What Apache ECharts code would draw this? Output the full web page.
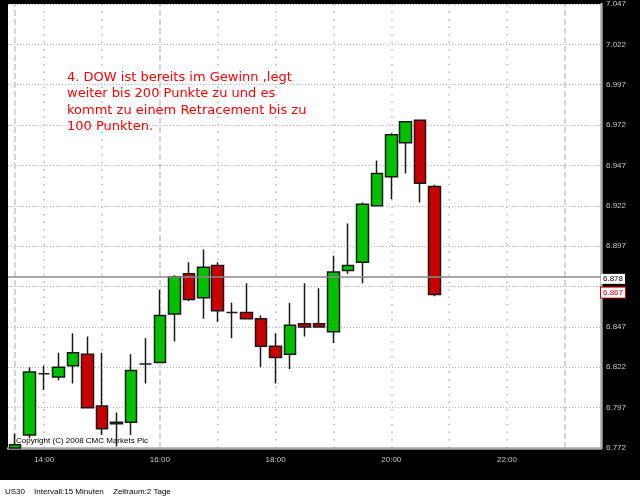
<!DOCTYPE html>
<html><head><meta charset="utf-8">
<script src="https://cdn.jsdelivr.net/npm/echarts@6/dist/echarts.min.js"></script>
<style>html,body{margin:0;padding:0;background:#000}#c{width:640px;height:500px}</style>
</head><body><div id="c"></div>
<script>
const categories = ['13:30','13:45','14:00','14:15','14:30','14:45','15:00','15:15','15:30','15:45',
  '16:00','16:15','16:30','16:45','17:00','17:15','17:30','17:45','18:00','18:15',
  '18:30','18:45','19:00','19:15','19:30','19:45','20:00','20:15','20:30','20:45',
  '21:00','21:15','21:30','21:45','22:00','22:15','22:30','22:45','23:00','23:15','23:30'];
const opens  = [6772,6780,6818,6816,6823,6830,6798,6787,6788,6824,6825,6855,6880,6865,6885,6856,6856,6852,6835,6830,6849,6849,6844,6882,6887,6922,6940,6961,6975,6934];
const closes = [6774,6819,6818,6822,6831,6797,6784,6788,6820,6824,6854,6878,6864,6884,6857,6856,6852,6835,6828,6848,6847,6847,6881,6885,6923,6942,6966,6974,6936,6867];
const lows   = [6772,6778,6808,6814,6812,6797,6780,6773,6780,6812,6825,6838,6863,6852,6850,6840,6852,6822,6812,6821,6841,6847,6837,6880,6874,6922,6926,6942,6924,6866];
const highs  = [6781,6822,6823,6831,6843,6841,6831,6794,6830,6840,6870,6879,6887,6895,6887,6862,6874,6854,6843,6862,6874,6871,6891,6911,6924,6950,6967,6974,6975,6935];
const yMin = 6772, yMax = 7047, yStep = 25;
const hiddenYLabels = [6872];
const xTickLabels = ['14:00','16:00','18:00','20:00','22:00'];
const dottedVLines = ['14:00','15:00','17:00','18:00','19:00','20:00','21:00','22:00'];
const dashedVLines = ['13:30','16:00','23:00'];
const refLevel = 6878;
const lastPrice = 6867;
const annotation = '4. DOW ist bereits im Gewinn ,legt\nweiter bis 200 Punkte zu und es\nkommt zu einem Retracement bis zu\n100 Punkten.';
const footerParts = ['US30', 'Intervall:15 Minuten', 'Zeitraum:2 Tage'];
const copyright = 'Copyright (C) 2008 CMC Markets Plc';

function fmt(v){ const n = Math.round(v); return Math.floor(n/1000) + '.' + String(n%1000).padStart(3,'0'); }

const candleData = opens.map((o,i)=>[o, closes[i], lows[i], highs[i]]);
const vLines = dottedVLines.map(c=>({xAxis:c, lineStyle:{color:'#b8b8b8', width:1.5, type:[1.5,6]}}))
  .concat(dashedVLines.map(c=>({xAxis:c, lineStyle:{color:'#c8c8c8', width:1.5, type:[6,3]}})));

const chart = echarts.init(document.getElementById('c'), null, {renderer:'canvas'});
chart.setOption({
  backgroundColor:'#000',
  animation:false,
  grid:{left:8, right:39, top:4, bottom:52, show:true, backgroundColor:'#fff', borderWidth:0},
  xAxis:{
    type:'category', data:categories, boundaryGap:true,
    axisLine:{show:true, lineStyle:{color:'#a8a8a8', width:2.5}},
    axisTick:{show:false},
    splitLine:{show:false},
    axisLabel:{color:'#c8c8c8', fontSize:8, fontFamily:'Liberation Sans', margin:8,
      interval:(i,v)=>xTickLabels.includes(v)}
  },
  yAxis:{
    type:'value', position:'right', min:yMin, max:yMax, interval:yStep, scale:true,
    axisLine:{show:true, lineStyle:{color:'#a8a8a8', width:2.5}},
    axisTick:{show:false},
    splitLine:{show:true, lineStyle:{color:'#b8b8b8', width:1, type:[1,2]}},
    axisLabel:{color:'#c8c8c8', fontSize:8, fontFamily:'Liberation Sans', margin:5,
      formatter:v=>hiddenYLabels.includes(Math.round(v)) ? '' : fmt(v)}
  },
  series:[
    {type:'line', data:[], z:0, silent:true,
      markLine:{silent:true, z:0, symbol:['none','none'], label:{show:false}, data:vLines}},
    {type:'candlestick', data:candleData, barWidth:12, z:3, clip:true,
      itemStyle:{color:'#00c000', color0:'#c80000', borderColor:'#1a1a1a', borderColor0:'#1a1a1a', borderWidth:1.5},
      markLine:{silent:true, symbol:['none','none'], z:6,
        data:[
          {yAxis:refLevel, lineStyle:{color:'#8a8a8a', width:1.5, type:'solid'},
            label:{show:true, position:'end', distance:0, offset:[0,2], formatter:p=>fmt(p.value),
              color:'#000', fontSize:8, fontFamily:'Liberation Sans', backgroundColor:'#fff', padding:[1,2]}},
          {yAxis:lastPrice, lineStyle:{color:'rgba(0,0,0,0)', width:0},
            label:{show:true, position:'end', distance:0, offset:[0,-2], formatter:p=>fmt(p.value),
              color:'#cc0000', fontSize:8, fontFamily:'Liberation Sans', backgroundColor:'#fff',
              borderColor:'#cc0000', borderWidth:1, padding:[1,2]}}
        ]}}
  ],
  graphic:[
    {type:'text', left:67, top:69, z:10, style:{text:annotation, fill:'#ff0000', font:'13px "DejaVu Sans"', lineHeight:16.5}},
    {type:'text', left:16, top:437, z:10, style:{text:copyright, fill:'#000', font:'8px "Liberation Sans"'}},
    {type:'rect', left:0, top:480, z:10, shape:{width:640, height:20}, style:{fill:'#fff'}},
    {type:'text', left:5, top:488, z:11, style:{text:footerParts[0], fill:'#000', font:'8px "Liberation Sans"'}},
    {type:'text', left:34, top:488, z:11, style:{text:footerParts[1], fill:'#000', font:'8px "Liberation Sans"'}},
    {type:'text', left:113, top:488, z:11, style:{text:footerParts[2], fill:'#000', font:'8px "Liberation Sans"'}}
  ]
});
</script></body></html>
